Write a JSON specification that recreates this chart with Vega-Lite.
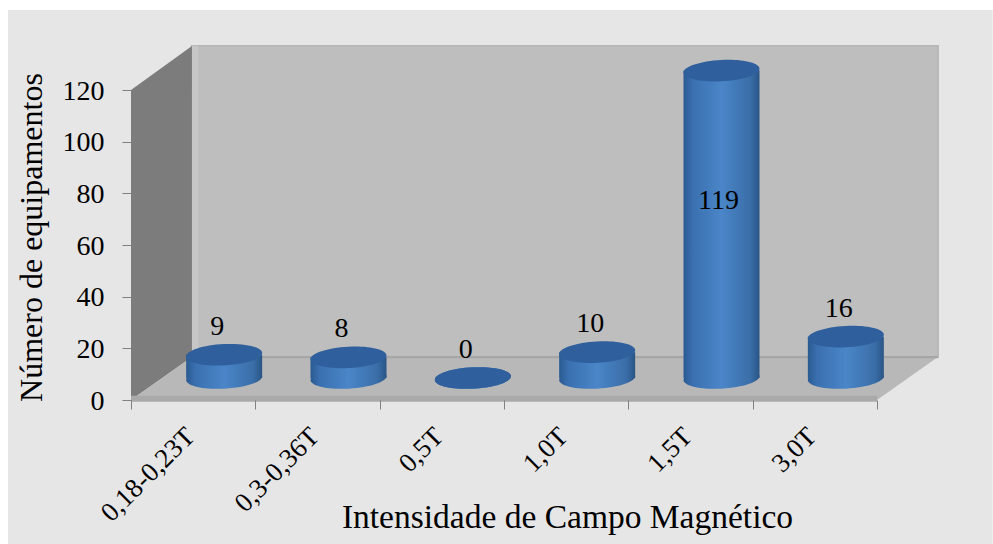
{
"$schema":"https://vega.github.io/schema/vega-lite/v6.json",
"width":746,"height":310,"autosize":"none",
"padding":{"left":131,"top":90,"right":116,"bottom":144},
"background":"#ffffff",
"config":{"view":{"stroke":null},"font":"Liberation Serif"},
"datasets":{"bars":[
{"campo":"0,18-0,23T","n":9},{"campo":"0,3-0,36T","n":8},{"campo":"0,5T","n":0},{"campo":"1,0T","n":10},{"campo":"1,5T","n":119},{"campo":"3,0T","n":16}]},
"resolve":{"scale":{"x":"independent","y":"independent"}},
"layer":[
{"data":{"values":[{"a":-0.989,"b":6.93,"c":151,"d":-55.7}]},
 "mark":{"type":"rect","color":"#e6e6e6","clip":false},
 "encoding":{"x":{"field":"a","type":"quantitative","scale":{"domain":[0,6]},"axis":null},"x2":{"field":"b"},
 "y":{"field":"c","type":"quantitative","scale":{"domain":[0,120]},"axis":null},"y2":{"field":"d"}}},
{"data":{"values":[{"a":0.49,"b":6.49,"c":137,"d":16.6}]},
 "mark":{"type":"rect","color":"#bebebe","stroke":"#b8b8b8","strokeWidth":2},
 "encoding":{"x":{"field":"a","type":"quantitative","scale":{"domain":[0,6]},"axis":null},"x2":{"field":"b"},
 "y":{"field":"c","type":"quantitative","scale":{"domain":[0,120]},"axis":null},"y2":{"field":"d"}}},
{"data":{"values":[{"a":0.49,"b":0.54,"c":137,"d":16.6}]},
 "mark":{"type":"rect","color":"#c6c6c6"},
 "encoding":{"x":{"field":"a","type":"quantitative","scale":{"domain":[0,6]},"axis":null},"x2":{"field":"b"},
 "y":{"field":"c","type":"quantitative","scale":{"domain":[0,120]},"axis":null},"y2":{"field":"d"}}},
{"data":{"values":[{"a":0,"c":120,"d":0},{"a":0.49,"c":137,"d":16.6}]},
 "mark":{"type":"area","color":"#7c7c7c"},
 "encoding":{"x":{"field":"a","type":"quantitative","scale":{"domain":[0,6]},"axis":null},
 "y":{"field":"c","type":"quantitative","scale":{"domain":[0,120]},"axis":null},"y2":{"field":"d"}}},
{"data":{"values":[{"a":0,"c":0,"d":0},{"a":0.49,"c":16.6,"d":0},{"a":6,"c":16.6,"d":0},{"a":6.49,"c":16.6,"d":16.6}]},
 "mark":{"type":"area","color":"#b8b8b8"},
 "encoding":{"x":{"field":"a","type":"quantitative","scale":{"domain":[0,6]},"axis":null},
 "y":{"field":"c","type":"quantitative","scale":{"domain":[0,120]},"axis":null},"y2":{"field":"d"}}},
{"data":{"values":[{"a":0.49,"b":6.49,"c":17,"d":16.2}]},
 "mark":{"type":"rect","color":"#a6a6a6"},
 "encoding":{"x":{"field":"a","type":"quantitative","scale":{"domain":[0,6]},"axis":null},"x2":{"field":"b"},
 "y":{"field":"c","type":"quantitative","scale":{"domain":[0,120]},"axis":null},"y2":{"field":"d"}}},
{"data":{"values":[{"a":0,"b":6,"c":1.6,"d":-0.7}]},
 "mark":{"type":"rect","color":"#a9a9a9"},
 "encoding":{"x":{"field":"a","type":"quantitative","scale":{"domain":[0,6]},"axis":null},"x2":{"field":"b"},
 "y":{"field":"c","type":"quantitative","scale":{"domain":[0,120]},"axis":null},"y2":{"field":"d"}}},
{"data":{"name":"bars"},
 "encoding":{
  "x":{"field":"campo","type":"nominal","sort":null,"scale":{"paddingInner":0,"paddingOuter":0},
   "axis":{"title":"Intensidade de Campo Magnético","titleFontSize":33.5,"titleFontWeight":"normal","titleColor":"#000","titleX":436,"titleY":117,"titleBaseline":"middle","titleAnchor":"middle",
   "labelAngle":-45,"labelAlign":"right","labelBaseline":"middle","labelFontSize":27,"labelColor":"#000","labelPadding":23,"labelOffset":-3,"labelOverlap":false,"labelFlush":false,"labelBound":false,"labelLimit":300,
   "tickBand":"extent","tickColor":"#808080","tickSize":9,"domain":false,"grid":false,"zindex":1}},
  "y":{"field":"n","type":"quantitative","scale":{"domain":[0,120]},
   "axis":{"title":"Número de equipamentos","titleFontSize":32,"titleFontWeight":"normal","titleColor":"#000","titleX":-100,"titleY":147,"titleBaseline":"middle","titleAnchor":"middle","titleAngle":-90,
   "values":[0,20,40,60,80,100,120],"labelFontSize":28,"labelColor":"#000","labelPadding":18,"labelOffset":1,"tickColor":"#808080","tickSize":9,"domain":false,"grid":false,"zindex":1}}
 },
 "layer":[
  {"mark":{"type":"point","filled":true,"opacity":1,"size":5776,"xOffset":31,"yOffset":-22,"shape":"M-1,0.05A1,0.28 -3 1,0 1,-0.05A1,0.28 -3 1,0 -1,0.05Z",
    "fill":{"gradient":"linear","x1":0,"y1":0,"x2":1,"y2":0,"stops":[{"offset":0,"color":"#2a5a90"},{"offset":0.12,"color":"#3a70b0"},{"offset":0.5,"color":"#4a86c8"},{"offset":0.88,"color":"#3a6ea8"},{"offset":1,"color":"#2a5585"}]}},
   "encoding":{"y":{"datum":0}}},
  {"transform":[{"filter":"datum.n>0"}],
   "mark":{"type":"bar","width":76,"xOffset":31,"yOffset":-22,"y2Offset":-22,
    "fill":{"gradient":"linear","x1":0,"y1":0,"x2":1,"y2":0,"stops":[{"offset":0,"color":"#2a5a90"},{"offset":0.12,"color":"#3a70b0"},{"offset":0.5,"color":"#4a86c8"},{"offset":0.88,"color":"#3a6ea8"},{"offset":1,"color":"#2a5585"}]}}},
  {"mark":{"type":"point","filled":true,"opacity":1,"size":5776,"color":"#2f5f9c","xOffset":31,"yOffset":-22,"shape":"M-1,0.05A1,0.28 -3 1,0 1,-0.05A1,0.28 -3 1,0 -1,0.05Z"}},
  {"transform":[{"filter":"datum.n<100"}],
   "mark":{"type":"text","fontSize":28,"color":"#000","xOffset":24,"yOffset":-50,"baseline":"middle"},
   "encoding":{"text":{"field":"n","type":"quantitative"}}},
  {"transform":[{"filter":"datum.n>=100"}],
   "mark":{"type":"text","fontSize":28,"color":"#000","xOffset":28,"baseline":"middle"},
   "encoding":{"y":{"datum":77},"text":{"field":"n","type":"quantitative"}}}
 ]}
]}
